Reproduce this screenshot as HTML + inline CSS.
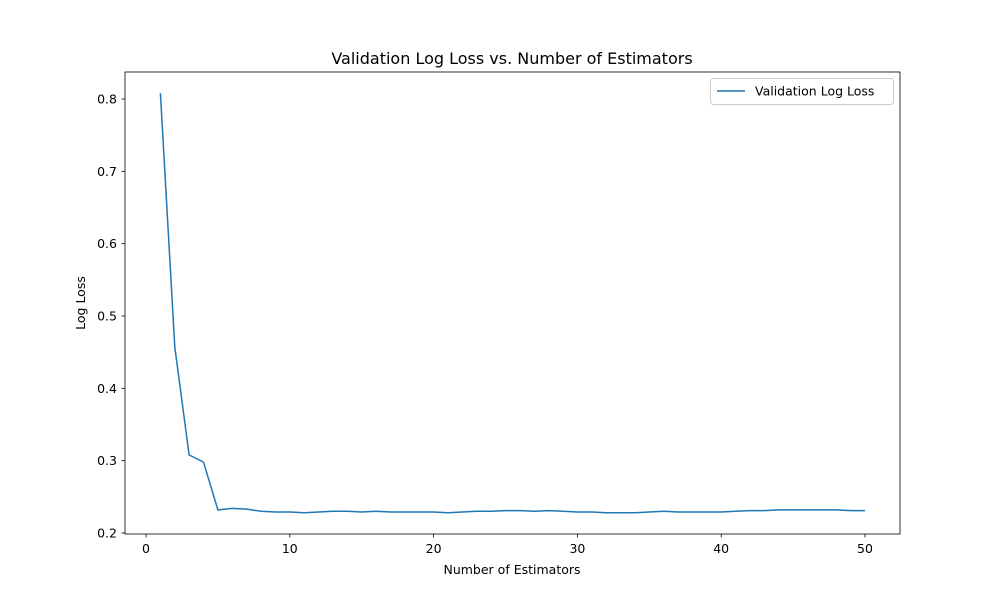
<!DOCTYPE html>
<html><head><meta charset="utf-8"><style>
body{margin:0;background:#fff;}
svg text{font-family:"DejaVu Sans","Liberation Sans",sans-serif;fill:#000;}
</style></head><body>
<svg id="chart" width="1000" height="600" xmlns="http://www.w3.org/2000/svg">
<rect width="1000" height="600" fill="#fff"/>
<text x="512" y="64" font-size="16" text-anchor="middle">Validation Log Loss vs. Number of Estimators</text>
<g id="xticks"></g>
<g id="yticks"></g>
<text x="512" y="574" font-size="12.5" text-anchor="middle">Number of Estimators</text>
<text transform="translate(85,303) rotate(-90)" font-size="12.5" text-anchor="middle">Log Loss</text>
<path id="line" fill="none" stroke="#1f77b4" stroke-width="1.5"/>
<rect x="125" y="72" width="775" height="462" fill="none" stroke="#000" stroke-width="0.8"/>
<g>
<rect x="710.5" y="78.5" width="183" height="26" rx="3" fill="#fff" stroke="#ccc"/>
<line x1="717" y1="91" x2="745" y2="91" stroke="#1f77b4" stroke-width="1.5"/>
<text x="755" y="95.5" font-size="12.5">Validation Log Loss</text>
</g>
</svg>
<script>
const estimators = [];
for (let i = 1; i <= 50; i++) estimators.push(i);
const logLoss = [0.808,0.457,0.308,0.298,0.232,0.234,0.233,0.230,0.229,0.229,0.228,0.229,0.230,0.230,0.229,0.230,0.229,0.229,0.229,0.229,0.228,0.229,0.230,0.230,0.231,0.231,0.230,0.231,0.230,0.229,0.229,0.228,0.228,0.228,0.229,0.230,0.229,0.229,0.229,0.229,0.230,0.231,0.231,0.232,0.232,0.232,0.232,0.232,0.231,0.231];
const xTicks = [0,10,20,30,40,50];
const yTicks = [0.2,0.3,0.4,0.5,0.6,0.7,0.8];
const NS='http://www.w3.org/2000/svg';
const xs = v => 146 + v*14.38;
const ys = v => 533 - (v-0.2)*723.3;
const gx=document.getElementById('xticks'), gy=document.getElementById('yticks');
xTicks.forEach(t=>{
  const l=document.createElementNS(NS,'line');
  
  
  l.setAttribute('x1',xs(t));l.setAttribute('x2',xs(t));l.setAttribute('y1',534);l.setAttribute('y2',537.5);l.setAttribute('stroke','#000');l.setAttribute('stroke-width','0.8');
  gx.appendChild(l);
  const tx=document.createElementNS(NS,'text');
  
  
  tx.setAttribute('x',xs(t));tx.setAttribute('y',553);tx.setAttribute('font-size','12.5');tx.setAttribute('text-anchor','middle');
  tx.textContent=t;gx.appendChild(tx);
});
yTicks.forEach(t=>{
  const l=document.createElementNS(NS,'line');
  
  
  l.setAttribute('x1',121.5);l.setAttribute('x2',125);l.setAttribute('y1',ys(t));l.setAttribute('y2',ys(t));l.setAttribute('stroke','#000');l.setAttribute('stroke-width','0.8');
  gy.appendChild(l);
  const tx=document.createElementNS(NS,'text');
  
  
  tx.setAttribute('x',117);tx.setAttribute('y',ys(t)+4.5);tx.setAttribute('font-size','12.5');tx.setAttribute('text-anchor','end');
  tx.textContent=t.toFixed(1);gy.appendChild(tx);
});
document.getElementById('line').setAttribute('d', estimators.map((e,i)=>(i?'L':'M')+xs(e).toFixed(1)+','+ys(logLoss[i]).toFixed(1)).join(' '));
</script>
</body></html>
